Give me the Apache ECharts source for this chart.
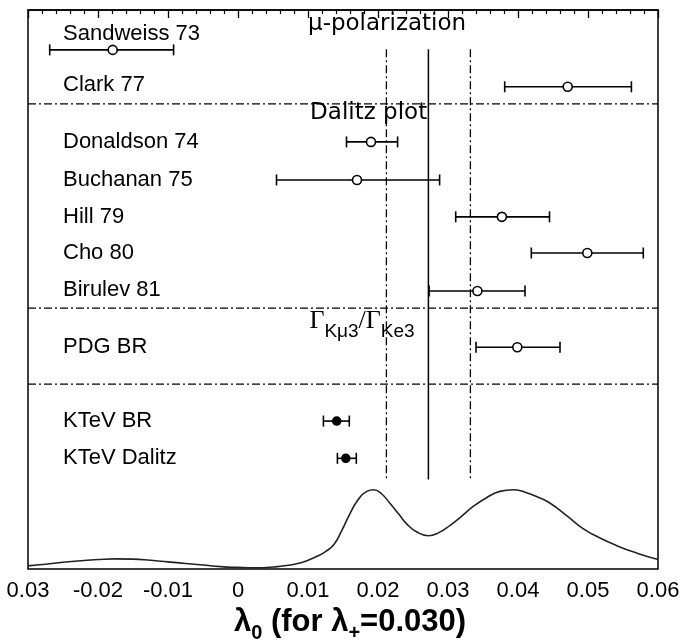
<!DOCTYPE html>
<html><head><meta charset="utf-8">
<script src="https://cdn.jsdelivr.net/npm/echarts@6/dist/echarts.min.js"></script>
<style>html,body{margin:0;padding:0;background:#fff}#c{width:682px;height:641px}</style>
</head><body><div id="c"></div>
<script>
// ---- data ----
const rowNames = ['Sandweiss 73','Clark 77','Donaldson 74','Buchanan 75','Hill 79','Cho 80','Birulev 81','PDG BR','KTeV BR','KTeV Dalitz'];
const rowSlots = [1.07, 2.06, 3.54, 4.56, 5.55, 6.52, 7.54, 9.05, 11.03, 12.03];
const labelSlots = [0.64, 2.0, 3.54, 4.56, 5.55, 6.52, 7.5, 9.05, 11.03, 12.03];
const centralValues = [-0.0179, 0.0471, 0.0190, 0.0170, 0.0377, 0.0499, 0.0342, 0.0399, 0.0141, 0.0154];
const lowerValues   = [-0.0269, 0.0381, 0.0155, 0.0055, 0.0311, 0.0419, 0.0273, 0.0340, 0.0122, 0.0142];
const upperValues   = [-0.0092, 0.0562, 0.0228, 0.0288, 0.0445, 0.0579, 0.0410, 0.0460, 0.0159, 0.0169];
const filledMarker  = [0, 0, 0, 0, 0, 0, 0, 0, 1, 1];
const separatorSlots = [2.52, 8.0, 10.04];
const sectionTexts = ['μ-polarization', 'Dalitz plot', '{g|Γ}{s|Kμ3}{g|/Γ}{s|Ke3}'];
const sectionSlots = [0.37, 2.77, 8.36];
const sectionX = [0.0100, 0.0103, 0.0102];
const averageValue = 0.0272;
const bandValues = [0.0212, 0.0332];
const bandSlotRange = [1.05, 12.6];
const curveX = [-0.030,-0.0275,-0.025,-0.0225,-0.020,-0.0175,-0.015,-0.0125,-0.010,-0.0075,-0.005,-0.0025,0.000,0.0025,0.005,0.0075,0.009,0.010,0.0113,0.0125,0.0137,0.0148,0.016,0.0172,0.0184,0.0194,0.0205,0.0217,0.023,0.0241,0.0255,0.0272,0.0285,0.0303,0.032,0.0336,0.0355,0.0374,0.0393,0.041,0.0428,0.0446,0.047,0.0493,0.0515,0.0541,0.057,0.060];
const curveY = [0.04,0.06,0.085,0.105,0.12,0.128,0.125,0.11,0.09,0.07,0.05,0.03,0.02,0.015,0.025,0.05,0.08,0.11,0.16,0.22,0.31,0.48,0.70,0.88,0.98,1.0,0.95,0.83,0.69,0.57,0.47,0.42,0.45,0.55,0.67,0.79,0.90,0.98,1.0,0.97,0.91,0.83,0.67,0.51,0.40,0.295,0.20,0.12];
const xTickLabels = ['0.03','-0.02','-0.01','0','0.01','0.02','0.03','0.04','0.05','0.06'];
const xMin = -0.03, xMax = 0.06, xStep = 0.01;
const labelX = -0.025;

// ---- chart ----
const ink = '#000';
const chart = echarts.init(document.getElementById('c'));
const errData = rowNames.map((n, i) => [lowerValues[i], upperValues[i], centralValues[i], rowSlots[i], filledMarker[i]]);
const dashDot = [8, 3, 2, 3];

function segSeries(data, dash, width) {
  return {
    type: 'custom', xAxisIndex: 0, yAxisIndex: 0, silent: true, data: data,
    renderItem: function (params, api) {
      const a = api.coord([api.value(0), api.value(1)]);
      const b = api.coord([api.value(2), api.value(3)]);
      return { type: 'line', shape: { x1: a[0], y1: a[1], x2: b[0], y2: b[1] },
        style: { stroke: ink, lineWidth: width, lineDash: dash } };
    }
  };
}

function textSeries(texts, xs, ys, font, rich) {
  return {
    type: 'custom', xAxisIndex: 0, yAxisIndex: 0, silent: true,
    data: texts.map((t, i) => [xs[i], ys[i], i]),
    renderItem: function (params, api) {
      const p = api.coord([api.value(0), api.value(1)]);
      const t = texts[api.value(2)];
      const style = { text: t, fill: ink, font: font, align: 'left', verticalAlign: 'middle' };
      if (rich) style.rich = rich;
      return { type: 'text', x: p[0], y: p[1], style: style };
    }
  };
}

chart.setOption({
  animation: false,
  backgroundColor: '#fff',
  grid: [
    { left: 28, right: 24, top: 10, bottom: 72, outerBoundsMode: 'none', containLabel: false, show: true, borderColor: ink, borderWidth: 1.5, backgroundColor: 'transparent' },
    { left: 28, right: 24, top: 470, bottom: 72, outerBoundsMode: 'none', containLabel: false }
  ],
  xAxis: [
    { type: 'value', gridIndex: 0, min: xMin, max: xMax, interval: xStep,
      axisLine: { show: true, lineStyle: { color: ink, width: 1.5 } },
      axisTick: { show: true, inside: false, length: 8, lineStyle: { color: ink, width: 1.3 } },
      minorTick: { show: true, splitNumber: 5, length: 4, lineStyle: { color: ink, width: 1.2 } },
      splitLine: { show: false },
      axisLabel: { show: true, margin: 11, color: ink, fontSize: 22, fontFamily: 'Liberation Sans',
        showMinLabel: true, showMaxLabel: true,
        formatter: function (v) { const i = Math.round((v - xMin) / xStep); return xTickLabels[i] !== undefined ? xTickLabels[i] : ''; } },
      name: '{m|λ}{s|0}{m| (for λ}{s|+}{m|=0.030)}',
      nameLocation: 'middle', nameGap: 30,
      nameTextStyle: { padding: [0, 0, 0, 14], rich: {
        m: { fontSize: 31, fontWeight: 'bold', fontFamily: 'Liberation Sans', color: ink, lineHeight: 32, verticalAlign: 'top' },
        s: { fontSize: 20, fontWeight: 'bold', fontFamily: 'Liberation Sans', color: ink, lineHeight: 20, padding: [17, 0, 0, 0], verticalAlign: 'top' }
      } }
    },
    { type: 'value', gridIndex: 1, min: xMin, max: xMax, show: false }
  ],
  yAxis: [
    { type: 'value', gridIndex: 0, min: 0, max: 15, inverse: true, show: false },
    { type: 'value', gridIndex: 1, min: 0, max: 1.25, show: false }
  ],
  series: [
    segSeries(separatorSlots.map(s => [xMin, s, xMax, s]), dashDot, 1.3),
    segSeries(bandValues.map(v => [v, bandSlotRange[0], v, bandSlotRange[1]]), dashDot, 1.3),
    segSeries([[averageValue, bandSlotRange[0], averageValue, bandSlotRange[1]]], null, 1.5),
    {
      type: 'custom', xAxisIndex: 0, yAxisIndex: 0, silent: true, data: errData,
      encode: { x: [0, 1, 2], y: 3 },
      renderItem: function (params, api) {
        const y = api.value(3);
        const lo = api.coord([api.value(0), y]);
        const hi = api.coord([api.value(1), y]);
        const c = api.coord([api.value(2), y]);
        const filled = api.value(4) === 1;
        const cap = 5.5;
        const st = { stroke: ink, lineWidth: 1.6 };
        return { type: 'group', children: [
          { type: 'line', shape: { x1: lo[0], y1: lo[1], x2: hi[0], y2: hi[1] }, style: st },
          { type: 'line', shape: { x1: lo[0], y1: lo[1] - cap, x2: lo[0], y2: lo[1] + cap }, style: st },
          { type: 'line', shape: { x1: hi[0], y1: hi[1] - cap, x2: hi[0], y2: hi[1] + cap }, style: st },
          { type: 'circle', shape: { cx: c[0], cy: c[1], r: filled ? 4 : 4.5 },
            style: { fill: filled ? ink : '#fff', stroke: ink, lineWidth: 1.6 } }
        ] };
      }
    },
    textSeries(rowNames, rowNames.map(() => labelX), labelSlots, '22px "Liberation Sans"'),
    textSeries(sectionTexts, sectionX, sectionSlots, '23px "DejaVu Sans"', {
      g: { fontSize: 26, fontFamily: 'Liberation Serif', fill: ink, lineHeight: 26, verticalAlign: 'top' },
      s: { fontSize: 19, fontFamily: 'Liberation Sans', fill: ink, lineHeight: 19, padding: [14, 0, 0, 0], verticalAlign: 'top' }
    }),
    {
      type: 'line', xAxisIndex: 1, yAxisIndex: 1, silent: true, smooth: true, symbol: 'none', clip: false,
      data: curveX.map((x, i) => [x, curveY[i]]),
      lineStyle: { color: '#222', width: 1.6 }
    }
  ]
});
</script></body></html>
